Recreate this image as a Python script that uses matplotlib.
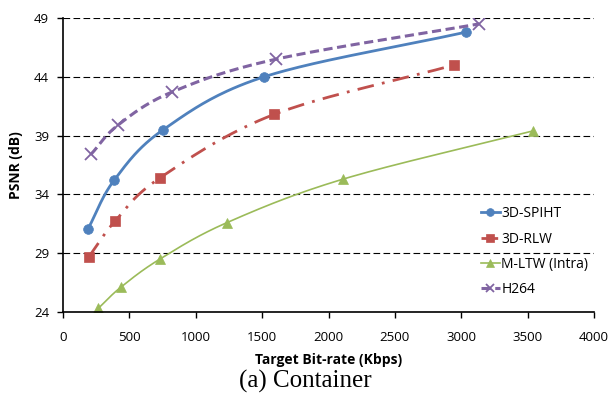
import numpy as np
import matplotlib
matplotlib.use("Agg")
from matplotlib import pyplot as plt

# Data
spiht_x = [190, 385, 755, 1515, 3035]
spiht_y = [31.1, 35.2, 39.5, 44.0, 47.8]
rlw_x = [195, 390, 730, 1590, 2945]
rlw_y = [28.7, 31.7, 35.4, 40.8, 45.0]
mltw_x = [265, 435, 730, 1235, 2110, 3540]
mltw_y = [24.3, 26.1, 28.5, 31.6, 35.3, 39.4]
h264_x = [210, 415, 820, 1605, 3135]
h264_y = [37.4, 39.9, 42.7, 45.5, 48.5]

x_ticks = [0, 500, 1000, 1500, 2000, 2500, 3000, 3500, 4000]
y_ticks = [24, 29, 34, 39, 44, 49]


def smooth(xs, ys, n=40):
    """Catmull-Rom spline through the points (like Excel smoothed lines)."""
    p = np.column_stack([xs, ys]).astype(float)
    p = np.vstack([2 * p[0] - p[1], p, 2 * p[-1] - p[-2]])
    out = []
    t = np.linspace(0, 1, n)[:, None]
    for i in range(1, len(p) - 2):
        p0, p1, p2, p3 = p[i - 1], p[i], p[i + 1], p[i + 2]
        seg = 0.5 * ((2 * p1) + (-p0 + p2) * t + (2 * p0 - 5 * p1 + 4 * p2 - p3) * t ** 2
                     + (-p0 + 3 * p1 - 3 * p2 + p3) * t ** 3)
        out.append(seg)
    out = np.vstack(out)
    return out[:, 0], out[:, 1]


plt.rcParams['font.family'] = ['Open Sans', 'DejaVu Sans']
fig = plt.figure(figsize=(6.1, 4.05), dpi=100)
ax = fig.add_axes([63 / 610, 1 - 312 / 405, (594 - 63) / 610, (312 - 18) / 405])

series = [
    ("3D-SPIHT", spiht_x, spiht_y, "#4F81BD", "-", 2.0, "o", 7),
    ("3D-RLW", rlw_x, rlw_y, "#C0504D", (0, (6, 3, 1, 3)), 2.0, "s", 7),
    ("M-LTW (Intra)", mltw_x, mltw_y, "#9BBB59", "-", 1.2, "^", 7),
    ("H264", h264_x, h264_y, "#8064A2", (0, (3, 1.5)), 2.2, "x", 8),
]
for name, xs, ys, col, ls, lw, mk, ms in series:
    sx, sy = smooth(xs, ys)
    mew = 1.3 if mk == "x" else 0.5
    ax.plot(sx, sy, color=col, linestyle=ls, linewidth=lw)
    ax.plot(xs, ys, linestyle="none", marker=mk, markersize=ms, color=col,
            markeredgewidth=mew)
    ax.plot([], [], color=col, linestyle=ls, linewidth=lw, marker=mk,
            markersize=ms, markeredgewidth=mew, label=name)

ax.set_xlim(0, 4000)
ax.set_ylim(24, 49)
ax.set_xticks(x_ticks)
ax.set_yticks(y_ticks)
ax.yaxis.grid(True, color="black", linestyle=(0, (6, 3)), linewidth=0.8)
ax.set_axisbelow(True)
for s in ["top", "right"]:
    ax.spines[s].set_visible(False)
ax.spines["left"].set_linewidth(1.2)
ax.spines["bottom"].set_linewidth(1.2)
ax.tick_params(labelsize=9.5, length=4, width=1.0, pad=10)
ax.tick_params(axis="y", pad=6)

ax.set_xlabel("Target Bit-rate (Kbps)", fontsize=10, fontweight="bold", labelpad=6)
ax.set_ylabel("PSNR (dB)", fontsize=10, fontweight="bold", labelpad=8)

ax.legend(loc="center right", bbox_to_anchor=(1.0, 0.205), frameon=False,
          fontsize=10, handlelength=1.4, handletextpad=0.1, labelspacing=0.75,
          borderaxespad=0.0, markerscale=0.8)

fig.text(0.5, 1 - 381 / 405, "(a) Container", ha="center", va="center",
         fontsize=18, family="Liberation Serif")

fig.savefig("out.png", dpi=100)
